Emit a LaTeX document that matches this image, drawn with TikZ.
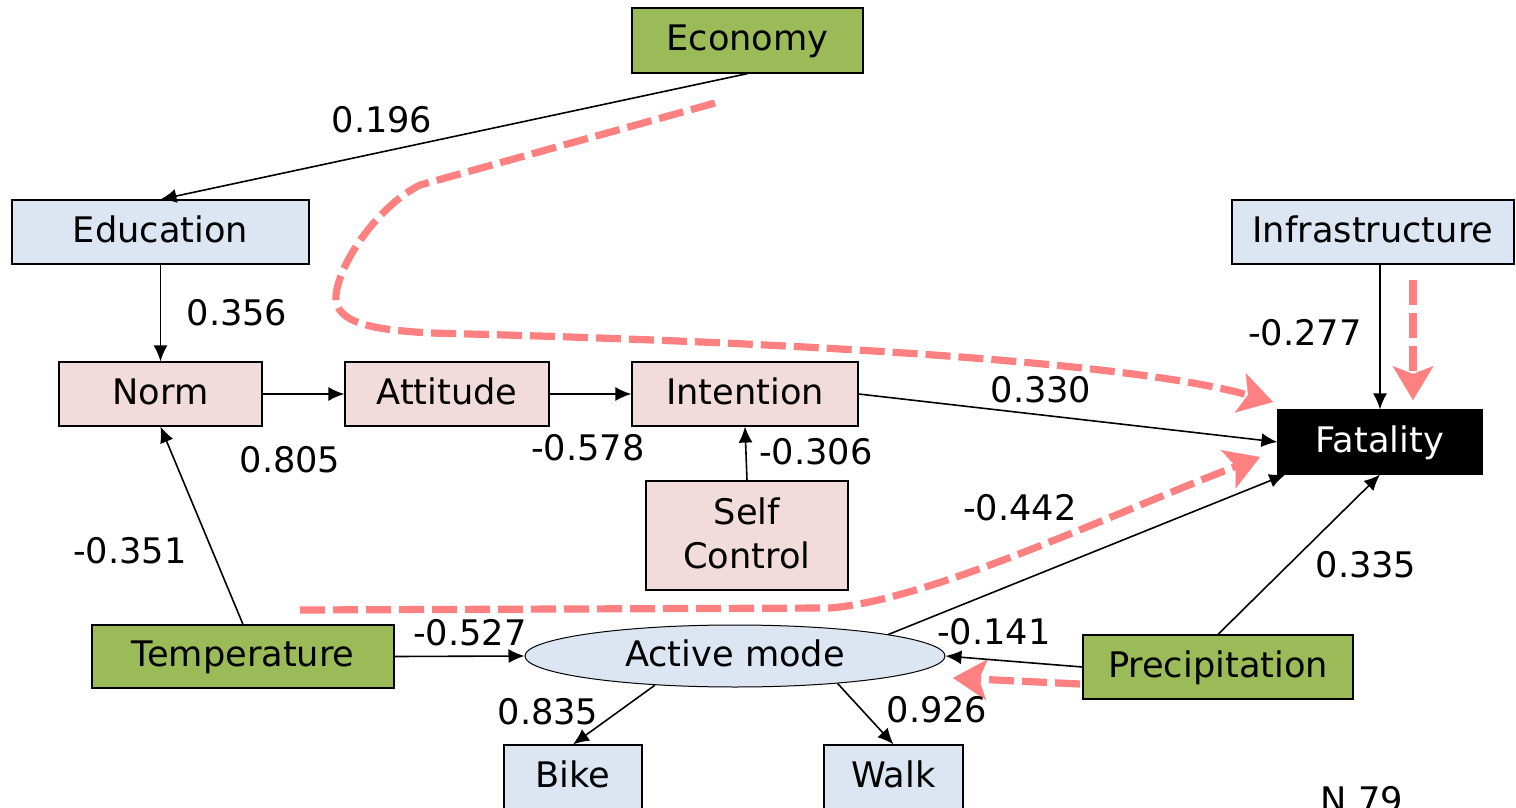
\documentclass[tikz,border=0pt]{standalone}
\usepackage{fontspec}
\setmainfont{DejaVu Sans}
\usetikzlibrary{arrows.meta,shapes.geometric}
\definecolor{grn}{HTML}{9BBB59}
\definecolor{blu}{HTML}{DCE6F2}
\definecolor{pnk}{HTML}{F2DCDB}
\definecolor{rd}{HTML}{FF8080}
\tikzset{
  box/.style={draw=black, line width=0.6pt, inner sep=0pt, minimum height=32pt, align=center, text depth=0.25em},
  gbox/.style={box, fill=grn},
  bbox/.style={box, fill=blu},
  pbox/.style={box, fill=pnk},
  arr/.style={draw=black, line width=0.8pt, -{Latex[length=8pt,width=7pt]}},
  lbl/.style={inner sep=0pt, text=black},
  rdash/.style={draw=rd, line width=3.6pt, dash pattern=on 12.5pt off 4pt,
    -{Stealth[length=17pt,width=20.5pt,inset=4pt,line width=0.1pt]}},
}
\begin{document}
\begin{tikzpicture}[x=0.5pt,y=-0.5pt,font=\fontsize{17.6}{22}\selectfont]
\useasboundingbox (0,0) rectangle (1516,808);
% nodes
\node[gbox, minimum width=115.5pt, minimum height=32.5pt] (eco) at (747.5,40.5) {Economy};
\node[bbox, minimum width=148.5pt] (edu) at (160.5,232) {Education};
\node[bbox, minimum width=141pt] (inf) at (1373,232) {Infrastructure};
\node[pbox, minimum width=101.5pt] (norm) at (160.5,394) {Norm};
\node[pbox, minimum width=102pt] (att) at (447,394) {Attitude};
\node[pbox, minimum width=113pt] (int) at (745,394) {Intention};
\node[box, fill=black, text=white, minimum width=102pt] (fat) at (1380,442) {Fatality};
\node[pbox, minimum width=101pt, minimum height=54.5pt] (sc) at (747,535.5) {Self\\Control};
\node[gbox, minimum width=151pt, minimum height=31.5pt] (temp) at (243,656.5) {Temperature};
\node[ellipse, draw=black, line width=0.5pt, fill=blu, inner sep=0pt, minimum width=210pt, minimum height=31pt, text depth=0.25em] (am) at (735,656) {Active mode};
\node[gbox, minimum width=135pt] (prec) at (1218,667) {Precipitation};
\node[bbox, minimum width=69pt] (bike) at (573,777) {Bike};
\node[bbox, minimum width=69.5pt] (walk) at (893.5,777) {Walk};
% red dashed annotations
\coordinate (r1s) at (715,103);
\coordinate (r1e) at (1273,402);
\draw[rdash] (r1s) -- (420,185) .. controls (380,205) and (340,260) .. (336,295)
  .. controls (333,325) and (380,330) .. (430,333)
  .. controls (800,342) and (1130,362) .. (r1e);
\coordinate (r2s) at (300,610);
\coordinate (r2e) at (1260,457);
\draw[rdash] (r2s) -- (830,608) .. controls (930,600) and (1110,515) .. (r2e);
\coordinate (r3s) at (1413,280);
\coordinate (r3e) at (1413,400);
\draw[rdash] (r3s) -- (r3e);
\coordinate (r4s) at (1080,684);
\coordinate (r4e) at (953,678);
\draw[rdash] (r4s) -- (r4e);
% connectors
\draw[arr] (eco.south) -- (edu.north);
\draw[arr] (edu.south) -- (norm.north);
\draw[arr] (norm.east) -- (att.west);
\draw[arr] (att.east) -- (int.west);
\draw[arr] (int.east) -- (fat.west);
\draw[arr] (sc.north) -- (int.south);
\draw[arr] (inf.south -| fat.north) -- (fat.north);
\draw[arr] (temp.north) -- (norm.south);
\draw[arr] (temp.east) -- (am.west);
\draw[arr] (am.8) -- (fat.199);
\draw[arr] (prec.north) -- (fat.south);
\draw[arr] (prec.west) -- (am.east);
\draw[arr] (am.200) -- (bike.north);
\draw[arr] (am.-15) -- (walk.north);
% labels
\node[lbl] (l01) at (382,120) {0.196};
\node[lbl] (l02) at (237,313) {0.356};
\node[lbl] (l03) at (290,460) {0.805};
\node[lbl] (l04) at (588,448) {-0.578};
\node[lbl] (l05) at (1041,390) {0.330};
\node[lbl] (l06) at (816,452) {-0.306};
\node[lbl] (l07) at (1305,333) {-0.277};
\node[lbl] (l08) at (130,551) {-0.351};
\node[lbl] (l09) at (470,633) {-0.527};
\node[lbl] (l10) at (1020,508) {-0.442};
\node[lbl] (l11) at (1366,565) {0.335};
\node[lbl] (l12) at (994,632) {-0.141};
\node[lbl] (l13) at (548,712) {0.835};
\node[lbl] (l14) at (937,710) {0.926};
\node[lbl, anchor=base] (n79) at (1362,812) {N 79};
\end{tikzpicture}
\end{document}
